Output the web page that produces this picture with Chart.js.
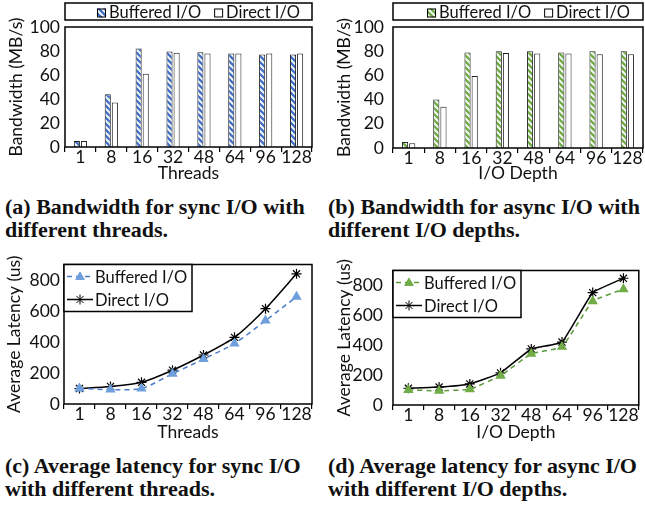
<!DOCTYPE html>
<html><head><meta charset="utf-8">
<script src="https://cdn.jsdelivr.net/npm/chart.js@4/dist/chart.umd.min.js"></script>
<style>
body{margin:0;background:#fff}
#fig{position:relative;width:645px;height:512px;overflow:hidden;background:#fff}
canvas{position:absolute}
.cap{position:absolute;font:bold 22px "Liberation Serif",serif;line-height:23px;color:#111;white-space:nowrap}
</style></head>
<body>
<div id="fig">
  <canvas id="cA" width="320" height="185" style="left:0;top:0"></canvas>
  <canvas id="cB" width="325" height="185" style="left:320px;top:0"></canvas>
  <canvas id="cC" width="320" height="195" style="left:0;top:250px"></canvas>
  <canvas id="cD" width="325" height="195" style="left:320px;top:250px"></canvas>
  <div class="cap" style="left:5px;top:195px">(a) Bandwidth for sync I/O with<br>different threads.</div>
  <div class="cap" style="left:328px;top:195px">(b) Bandwidth for async I/O with<br>different I/O depths.</div>
  <div class="cap" style="left:5px;top:454px">(c) Average latency for sync I/O<br>with different threads.</div>
  <div class="cap" style="left:328px;top:454px">(d) Average latency for async I/O<br>with different I/O depths.</div>
</div>
<script>
const $ = s => document.querySelector(s);
const FONT = '16.5px Lato';

// x categories (threads / io depth use the same values)
const levels = ['1', '8', '16', '32', '48', '64', '96', '128'];
const seriesNames = ['Buffered I/O', 'Direct I/O'];

// bandwidth, MB/s
const bwSyncBuf = [5, 44, 82, 79.5, 79, 78, 77, 77];
const bwSyncDir = [5, 37, 61, 78.5, 78, 78, 78, 78];
const bwAsyncBuf = [5, 40, 79, 80, 80, 79, 80, 80];
const bwAsyncDir = [4, 34, 59.5, 78.5, 78, 78, 77.5, 77.5];

// average latency, us
const latSyncBuf = [100, 93, 100, 195, 290, 390, 538, 692];
const latSyncDir = [100, 113, 140, 218, 316, 430, 615, 840];
const latAsyncBuf = [101, 95, 105, 196, 343, 389, 695, 775];
const latAsyncDir = [112, 120, 141, 215, 375, 421, 752, 848];

const bwTicks = { min: 0, max: 100, step: 20 };
const latTicks = { min: 0, max: 900, step: 200 };

const BLUE = '#4472c4', GREEN = '#70ad47';

Chart.defaults.font.family = 'Lato';
Chart.defaults.font.size = 17.5;
Chart.defaults.color = '#111';

function hatch(color) {
  const c = document.createElement('canvas'); c.width = c.height = 6;
  const g = c.getContext('2d');
  g.fillStyle = '#fff'; g.fillRect(0, 0, 6, 6);
  g.strokeStyle = color; g.lineWidth = 2.4;
  g.beginPath();
  for (const k of [-1, 0, 1]) { g.moveTo(-1, -1 + 6 * k); g.lineTo(7, 7 + 6 * k); }
  g.stroke();
  return g.createPattern(c, 'repeat');
}

// box round the plot area
const frame = {
  id: 'frame',
  afterDraw(ch) {
    const { ctx, chartArea: a } = ch;
    ctx.save(); ctx.strokeStyle = '#000'; ctx.lineWidth = 1.5;
    ctx.strokeRect(a.left, a.top, a.right - a.left, a.bottom - a.top);
    ctx.restore();
  }
};

// boxed legend above the bars
const barLegend = {
  id: 'barLegend',
  afterDraw(ch, args, o) {
    const { ctx, chartArea: a } = ch;
    ctx.save();
    ctx.lineWidth = 1.5; ctx.strokeStyle = '#000';
    ctx.strokeRect(a.left, o.top, a.right - a.left, o.h);
    ctx.font = FONT; ctx.textBaseline = 'middle';
    const cy = o.top + o.h / 2 + 1;
    let x = a.right - o.right;
    [...ch.data.datasets].reverse().forEach(ds => {
      x -= ctx.measureText(ds.label).width;
      ctx.fillStyle = '#111'; ctx.fillText(ds.label, x, cy);
      x -= 12;
      ctx.fillStyle = ds.backgroundColor; ctx.fillRect(x, cy - 4, 9, 9);
      ctx.strokeStyle = '#000'; ctx.lineWidth = 1; ctx.strokeRect(x + .5, cy - 3.5, 8, 8);
      x -= 13;
    });
    ctx.restore();
  }
};

function marker(ctx, style, x, y, r) {
  ctx.beginPath();
  if (style === 'triangle') {
    ctx.moveTo(x, y - r); ctx.lineTo(x + r * 0.95, y + r * 0.65); ctx.lineTo(x - r * 0.95, y + r * 0.65); ctx.closePath();
    ctx.fill(); ctx.stroke();
  } else {
    for (let i = 0; i < 4; i++) {
      const t = i * Math.PI / 4;
      ctx.moveTo(x - r * Math.cos(t), y - r * Math.sin(t)); ctx.lineTo(x + r * Math.cos(t), y + r * Math.sin(t));
    }
    ctx.stroke();
  }
}

// boxed legend in the top-left of the line plots
const lineLegend = {
  id: 'lineLegend',
  afterDraw(ch, args, o) {
    const { ctx, chartArea: a } = ch;
    ctx.save();
    ctx.fillStyle = '#fff'; ctx.fillRect(a.left, a.top, o.w, o.h);
    ctx.lineWidth = 1.5; ctx.strokeStyle = '#000';
    ctx.strokeRect(a.left, a.top, o.w, o.h);
    ctx.font = FONT; ctx.textBaseline = 'middle';
    ch.data.datasets.forEach((ds, i) => {
      const cy = a.top + 12 + i * 23;
      ctx.strokeStyle = ds.borderColor; ctx.lineWidth = ds.borderWidth;
      ctx.setLineDash(ds.borderDash || []);
      ctx.beginPath(); ctx.moveTo(a.left + 3, cy); ctx.lineTo(a.left + 29, cy); ctx.stroke();
      ctx.setLineDash([]);
      ctx.fillStyle = ds.pointBackgroundColor; ctx.strokeStyle = ds.pointBorderColor; ctx.lineWidth = 1;
      marker(ctx, ds.pointStyle, a.left + 16, cy, ds.pointRadius);
      ctx.fillStyle = '#111'; ctx.fillText(ds.label, a.left + 31, cy + 1);
    });
    ctx.restore();
  }
};

function barChart(id, buf, dir, color, xTitle, L) {
  return new Chart($(id), {
    type: 'bar',
    data: {
      labels: levels,
      datasets: [
        { label: seriesNames[0], data: buf, backgroundColor: hatch(color), borderColor: '#222', borderWidth: 1 },
        { label: seriesNames[1], data: dir, backgroundColor: '#fff', borderColor: '#222', borderWidth: 1 },
      ]
    },
    options: {
      responsive: false, animation: false,
      categoryPercentage: 0.46, barPercentage: 0.86,
      layout: { padding: { top: 27, right: L.right, left: 0, bottom: 0 } },
      plugins: { legend: { display: false }, tooltip: { enabled: false }, barLegend: { top: 3, h: 17, right: L.legRight } },
      scales: {
        x: {
          grid: { offset: true, drawOnChartArea: false, tickLength: 5, color: '#000', lineWidth: 1.2 },
          border: { display: false },
          ticks: { padding: -5, color: '#111', maxRotation: 0, autoSkip: false },
          title: { display: true, text: xTitle, padding: { top: 0, bottom: L.xtPad } },
          afterFit: s => { s.height = L.xh; }
        },
        y: {
          min: bwTicks.min, max: bwTicks.max,
          grid: { display: false, drawTicks: false }, border: { display: false },
          ticks: { stepSize: bwTicks.step, padding: L.yPad, color: '#111', autoSkip: false },
          title: { display: true, text: 'Bandwidth (MB/s)', padding: { top: L.ytPad, bottom: 0 } },
          afterFit: s => { s.width = L.yw; }
        }
      }
    },
    plugins: [frame, barLegend]
  });
}

function lineChart(id, buf, dir, color, fill, xTitle, L) {
  return new Chart($(id), {
    type: 'line',
    data: {
      labels: levels,
      datasets: [
        { label: seriesNames[0], data: buf, borderColor: color, borderWidth: 1.5, borderDash: [5, 4],
          pointStyle: 'triangle', pointRadius: 4.5, pointBackgroundColor: fill, pointBorderColor: fill, tension: L.tension },
        { label: seriesNames[1], data: dir, borderColor: '#000', borderWidth: 1.5,
          pointStyle: 'star', pointRadius: 5, pointBackgroundColor: '#000', pointBorderColor: '#000', pointBorderWidth: 1.2, tension: L.tension },
      ]
    },
    options: {
      responsive: false, animation: false,
      layout: { padding: { top: 13, right: L.right, left: 0, bottom: 0 } },
      plugins: { legend: { display: false }, tooltip: { enabled: false }, lineLegend: { w: 128, h: 47 } },
      scales: {
        x: {
          offset: true,
          grid: { offset: true, drawOnChartArea: false, tickLength: 5, color: '#000', lineWidth: 1.2 },
          border: { display: false },
          ticks: { padding: -5, color: '#111', maxRotation: 0, autoSkip: false },
          title: { display: true, text: xTitle, padding: { top: 0, bottom: L.xtPad } },
          afterFit: s => { s.height = L.xh; }
        },
        y: {
          min: latTicks.min, max: latTicks.max,
          grid: { display: false, drawTicks: false }, border: { display: false },
          ticks: { stepSize: latTicks.step, includeBounds: false, padding: L.yPad, color: '#111', autoSkip: false },
          title: { display: true, text: 'Average Latency (us)', padding: { top: L.ytPad, bottom: 0 } },
          afterFit: s => { s.width = L.yw; }
        }
      }
    },
    plugins: [frame, lineLegend]
  });
}

barChart('#cA', bwSyncBuf, bwSyncDir, BLUE, 'Threads', { right: 8, yw: 65, xh: 38, yPad: 5, ytPad: 6, xtPad: 1, legRight: 12 });
barChart('#cB', bwAsyncBuf, bwAsyncDir, GREEN, 'I/O Depth', { right: 2, yw: 73, xh: 37, yPad: 9, ytPad: 14, xtPad: 1, legRight: 13 });
lineChart('#cC', latSyncBuf, latSyncDir, '#4a7cc9', '#6f9fdc', 'Threads', { right: 8, yw: 64, xh: 41, yPad: 4, ytPad: 4, xtPad: 2, tension: 0.25 });
lineChart('#cD', latAsyncBuf, latAsyncDir, '#5c9a3a', '#70ad47', 'I/O Depth', { right: 2, yw: 73, xh: 40, yPad: 10, ytPad: 14, xtPad: 2, tension: 0.1 });
</script>
</body></html>
